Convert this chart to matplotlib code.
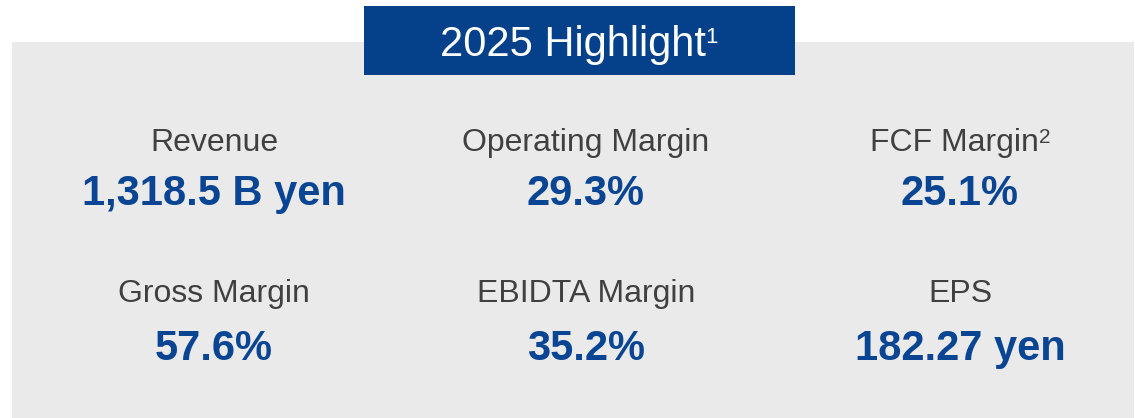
import matplotlib.pyplot as plt
from matplotlib.patches import Rectangle

plt.rcParams['font.family'] = ['Liberation Sans', 'DejaVu Sans']

title = "2025 Highlight"
title_note = "1"
labels = ["Revenue", "Operating Margin", "FCF Margin",
          "Gross Margin", "EBIDTA Margin", "EPS"]
label_notes = ["", "", "2", "", "", ""]
values = ["1,318.5 B yen", "29.3%", "25.1%",
          "57.6%", "35.2%", "182.27 yen"]

BLUE_BOX = '#05418A'
BLUE_TXT = '#0A4594'
GREY_TXT = '#404040'
PANEL = '#EAEAEA'

W, H = 1135, 418
fig = plt.figure(figsize=(W / 100, H / 100), dpi=100)
ax = fig.add_axes([0, 0, 1, 1])
ax.set_xlim(0, W)
ax.set_ylim(H, 0)
ax.axis('off')
renderer = fig.canvas.get_renderer()


def centred_text(x, y, main, note, size, note_size, rise, **kw):
    # main text + optional superscript, centred together on x, baseline y
    t = ax.text(x, y, main, fontsize=size, ha='left', va='baseline', **kw)
    w1 = t.get_window_extent(renderer).width
    if not note:
        t.set_x(x - w1 / 2)
        return
    s = ax.text(x, y - rise, note, fontsize=note_size, ha='left',
                va='baseline', **kw)
    w2 = s.get_window_extent(renderer).width
    x0 = x - (w1 + w2) / 2
    t.set_x(x0)
    s.set_x(x0 + w1)


# grey panel and title banner
ax.add_patch(Rectangle((12, 42), 1122, 380, color=PANEL, lw=0))
ax.add_patch(Rectangle((364, 6), 431, 69, color=BLUE_BOX, lw=0))
centred_text(579, 56, title, title_note, 30, 16, 13, color='white')

# KPI grid
col_x = [214, 586, 960]
row_label_y = [151, 302]
row_value_y = [205, 360]
for i, (lab, note, val) in enumerate(zip(labels, label_notes, values)):
    r, c = divmod(i, 3)
    centred_text(col_x[c], row_label_y[r], lab, note, 23, 15, 8,
                 color=GREY_TXT)
    centred_text(col_x[c], row_value_y[r], val, "", 30, 0, 0,
                 color=BLUE_TXT, fontweight='bold')

fig.savefig('out.png', dpi=100)
